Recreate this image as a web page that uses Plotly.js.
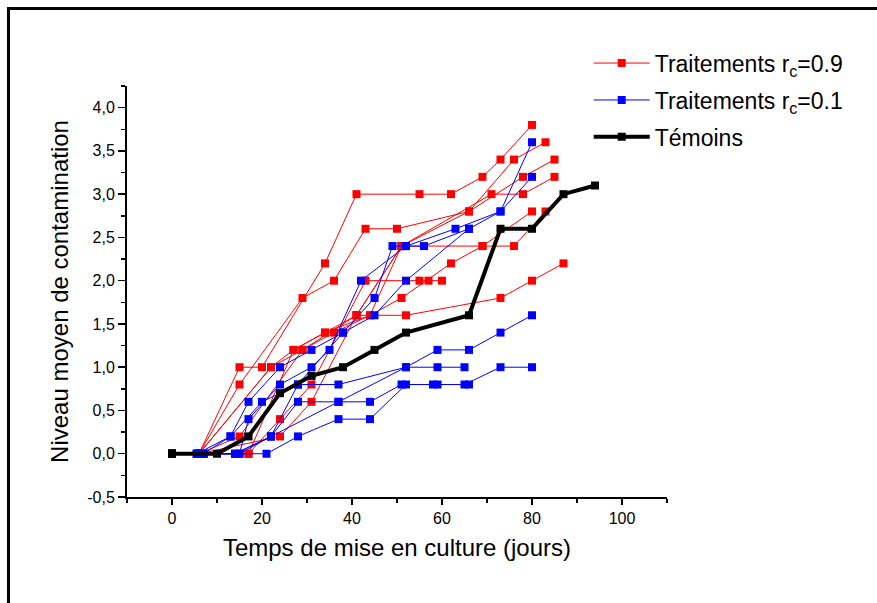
<!DOCTYPE html>
<html>
<head>
<meta charset="utf-8">
<script src="https://cdn.plot.ly/plotly-3.0.1.min.js"></script>
<style>
html,body{margin:0;padding:0;background:#fff;overflow:hidden;}
#chart{position:absolute;left:0;top:0;width:877px;height:603px;}
#frame{position:absolute;left:7px;top:7px;width:900px;height:620px;border-left:3px solid #000;border-top:3px solid #000;pointer-events:none;}
</style>
</head>
<body>
<div id="chart"></div>
<div id="frame"></div>
<script>
// ---- Data (days, contamination level) ----
// Traitements rc=0.9 (red)
const red1Days = [0,6,15,20,34,41,55,62,69,73,80];
const red1Vals = [0,0,1.0,1.0,2.2,3.0,3.0,3.0,3.2,3.4,3.8];
const red2Days = [0,6,15,29,36,43,50,66,76,83];
const red2Vals = [0,0,0.8,1.8,2.0,2.6,2.6,2.8,3.4,3.6];
const red3Days = [0,6,22,27,34,41,51,71,78,85];
const red3Vals = [0,0,1.0,1.2,1.4,1.6,2.4,3.0,3.0,3.2];
const red4Days = [0,6,15,29,36,44,51,62,69,76,83];
const red4Vals = [0,0,0.2,1.2,1.4,1.6,1.8,2.2,2.4,2.4,2.8];
const red5Days = [0,6,17,24,31,43,55,57,60];
const red5Vals = [0,0,0,0.4,0.8,2.0,2.0,2.0,2.0];
const red6Days = [0,6,24,31,41,52,73,80,87];
const red6Vals = [0,0,0.2,0.6,1.6,1.6,1.8,2.0,2.2];
const red7Days = [0,6,22,29,41,51,66,78,85];
const red7Vals = [0,0,1.0,1.2,1.6,2.4,2.8,3.2,3.4];
const red8Days = [0,6,17,27,34,44,51,69,80];
const red8Vals = [0,0,0,1.2,1.4,1.6,2.4,2.4,2.8];

// Traitements rc=0.1 (blue)
const blue1Days = [0,7,13,17,24,31,38,45,49,52,63,73,80];
const blue1Vals = [0,0,0.2,0.6,1.0,1.2,1.4,1.8,2.4,2.4,2.6,2.8,3.6];
const blue2Days = [0,7,15,17,24,31,35,42,52,56,66,73,80];
const blue2Vals = [0,0,0,0.4,0.8,1.0,1.2,2.0,2.4,2.4,2.6,2.8,3.2];
const blue3Days = [0,5.5,13,20,28,37,52,59,66,73,80];
const blue3Vals = [0,0,0.2,0.6,0.8,0.8,1.0,1.2,1.2,1.4,1.6];
const blue4Days = [0,5.5,14,22,28,37,44,51,58,65,73,80];
const blue4Vals = [0,0,0,0.2,0.6,0.6,0.6,0.8,0.8,0.8,1.0,1.0];
const blue5Days = [0,7,21,28,37,44,52,59,66];
const blue5Vals = [0,0,0,0.2,0.4,0.4,0.8,0.8,0.8];
const blue6Days = [0,7,14,22,28,38,45,52,66];
const blue6Vals = [0,0,0,0.2,0.8,1.4,1.6,2.0,2.6];
const blue7Days = [0,5.5,15,22,37,52,59,65];
const blue7Vals = [0,0,0,0.2,0.6,1.0,1.0,1.0];

// Témoins (black)
const temoinsDays = [0,10,17,24,31,38,45,52,66,73,80,87,94];
const temoinsVals = [0,0,0.2,0.7,0.9,1.0,1.2,1.4,1.6,2.6,2.6,3.0,3.1];

const seriesNames = ['Traitements r<sub>c</sub>=0.9','Traitements r<sub>c</sub>=0.1','Témoins'];
const xTickVals = [0,20,40,60,80,100];
const xTickText = ['0','20','40','60','80','100'];
const yTickVals = [-0.5,0,0.5,1,1.5,2,2.5,3,3.5,4];
const yTickText = ['-0,5','0,0','0,5','1,0','1,5','2,0','2,5','3,0','3,5','4,0'];

// ---- Build traces ----
const redSets = [[red1Days,red1Vals],[red2Days,red2Vals],[red3Days,red3Vals],[red4Days,red4Vals],
                 [red5Days,red5Vals],[red6Days,red6Vals],[red7Days,red7Vals],[red8Days,red8Vals]];
const blueSets = [[blue1Days,blue1Vals],[blue2Days,blue2Vals],[blue3Days,blue3Vals],[blue4Days,blue4Vals],
                  [blue5Days,blue5Vals],[blue6Days,blue6Vals],[blue7Days,blue7Vals]];

function mk(set, i, color, name, group, lw, ms) {
  return {
    x: set[0], y: set[1], type: 'scatter', mode: 'lines+markers',
    name: name, legendgroup: group, showlegend: i === 0,
    line: {color: color, width: lw},
    marker: {symbol: 'square', size: ms, color: color},
    hoverinfo: 'skip'
  };
}
const traces = [];
redSets.forEach((s,i) => traces.push(mk(s, i, '#ff0000', seriesNames[0], 'r', 1, 8)));
blueSets.forEach((s,i) => traces.push(mk(s, i, '#0000ff', seriesNames[1], 'b', 1, 8)));
traces.push(mk([temoinsDays, temoinsVals], 0, '#000000', seriesNames[2], 'k', 4, 8));

const fontFam = 'Liberation Sans, Arial, sans-serif';
const layout = {
  width: 877, height: 603,
  margin: {l: 127, r: 210, t: 86, b: 106},
  paper_bgcolor: '#fff', plot_bgcolor: '#fff',
  font: {family: fontFam, color: '#000', size: 16},
  showlegend: true,
  legend: {
    x: 0.855, y: 1.108, xanchor: 'left', yanchor: 'top',
    font: {family: fontFam, size: 23, color: '#000'},
    bgcolor: 'rgba(0,0,0,0)', itemwidth: 56, tracegroupgap: 4,
    traceorder: 'grouped'
  },
  xaxis: {
    range: [-10, 110], tickmode: 'array', tickvals: xTickVals, ticktext: xTickText,
    ticks: 'outside', ticklen: 6, tickwidth: 1.5, tickcolor: '#000',
    showline: true, linecolor: '#000', linewidth: 2, mirror: false,
    showgrid: false, zeroline: false,
    tickfont: {family: fontFam, size: 16},
    minor: {dtick: 10, tick0: 0, ticks: 'outside', ticklen: 4, tickwidth: 1.5, tickcolor: '#000', showgrid: false},
    title: {text: 'Temps de mise en culture (jours)', font: {family: fontFam, size: 24}, standoff: 13}
  },
  yaxis: {
    range: [-0.5, 4.25], tickmode: 'array', tickvals: yTickVals, ticktext: yTickText,
    ticks: 'outside', ticklen: 7, tickwidth: 1.5, tickcolor: '#000',
    showline: true, linecolor: '#000', linewidth: 2, mirror: false,
    showgrid: false, zeroline: false,
    tickfont: {family: fontFam, size: 16},
    minor: {dtick: 0.25, tick0: 0, ticks: 'outside', ticklen: 4, tickwidth: 1.5, tickcolor: '#000', showgrid: false},
    title: {text: 'Niveau moyen de contamination', font: {family: fontFam, size: 24}, standoff: 12}
  }
};
Plotly.newPlot('chart', traces, layout, {staticPlot: true, displayModeBar: false});
</script>
</body>
</html>
